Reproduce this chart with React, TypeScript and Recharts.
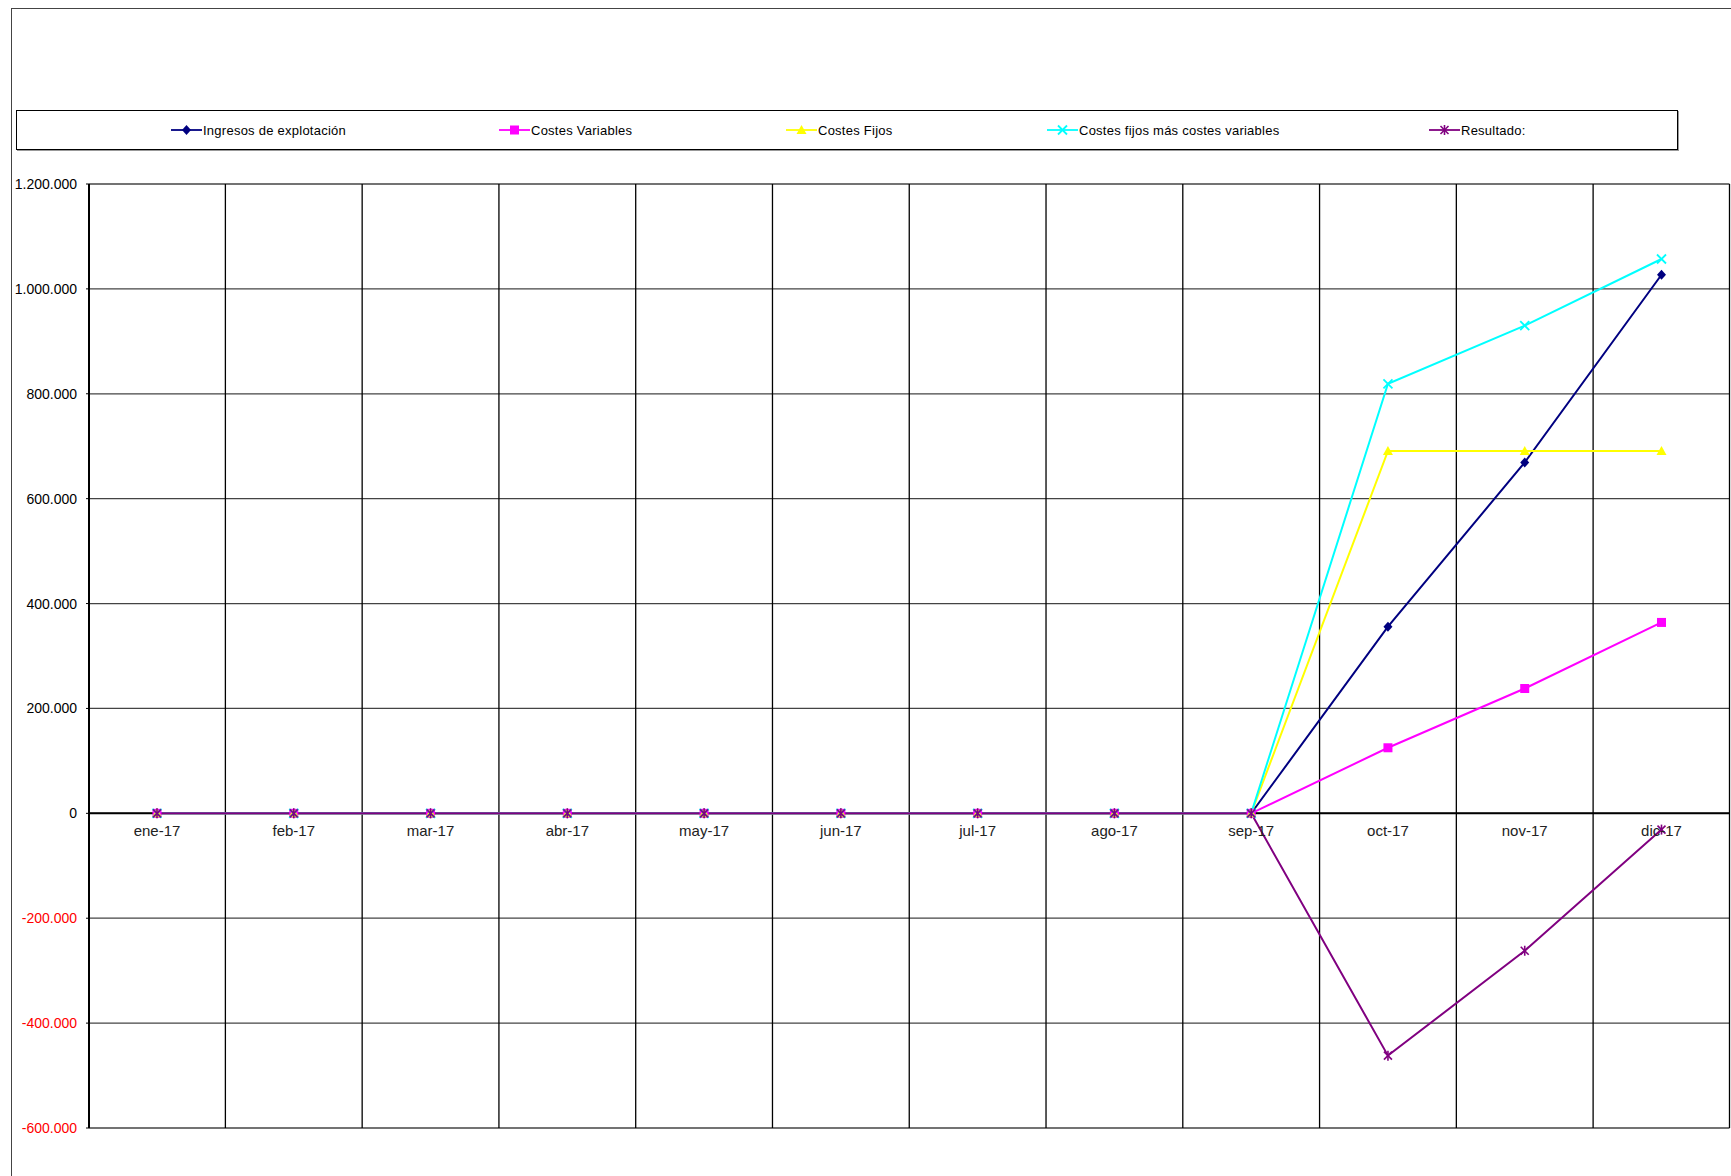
import React from 'react';
import {
  LineChart,
  Line,
  XAxis,
  YAxis,
  CartesianGrid,
  ReferenceLine,
  ReferenceDot,
  Legend,
} from 'recharts';

const months = ['ene-17', 'feb-17', 'mar-17', 'abr-17', 'may-17', 'jun-17', 'jul-17', 'ago-17', 'sep-17', 'oct-17', 'nov-17', 'dic-17'];
const ingresos = [0, 0, 0, 0, 0, 0, 0, 0, 0, 356000, 669000, 1027000];
const costesVariables = [0, 0, 0, 0, 0, 0, 0, 0, 0, 125000, 238000, 364000];
const costesFijos = [0, 0, 0, 0, 0, 0, 0, 0, 0, 691000, 691000, 691000];
const costesTotales = [0, 0, 0, 0, 0, 0, 0, 0, 0, 819000, 930000, 1057000];
const resultado = [0, 0, 0, 0, 0, 0, 0, 0, 0, -462000, -262000, -31000];
const yTicks = [-600000, -400000, -200000, 0, 200000, 400000, 600000, 800000, 1000000, 1200000];

const seriesNames = {
  ingresos: 'Ingresos de explotación',
  variables: 'Costes Variables',
  fijos: 'Costes Fijos',
  total: 'Costes fijos más costes variables',
  resultado: 'Resultado:',
};

const data = months.map((m, i) => ({
  month: m,
  ingresos: ingresos[i],
  variables: costesVariables[i],
  fijos: costesFijos[i],
  total: costesTotales[i],
  resultado: resultado[i],
}));

const FONT = '"Liberation Sans", Arial, Helvetica, sans-serif';

const COLORS: Record<string, string> = {
  ingresos: '#000080',
  variables: '#FF00FF',
  fijos: '#FFFF00',
  total: '#00FFFF',
  resultado: '#800080',
};

function marker(key: string, cx: number, cy: number, k?: any) {
  const c = COLORS[key];
  if (key === 'ingresos') {
    return <path key={k} d={`M${cx},${cy - 5}L${cx + 4.5},${cy}L${cx},${cy + 5}L${cx - 4.5},${cy}Z`} fill={c} />;
  }
  if (key === 'variables') {
    return <rect key={k} x={cx - 4.5} y={cy - 4.5} width={9} height={9} fill={c} />;
  }
  if (key === 'fijos') {
    return <path key={k} d={`M${cx},${cy - 5}L${cx + 5},${cy + 4}L${cx - 5},${cy + 4}Z`} fill={c} />;
  }
  if (key === 'total') {
    return (
      <g key={k} stroke={c} strokeWidth={1.8}>
        <line x1={cx - 4.5} y1={cy - 4.5} x2={cx + 4.5} y2={cy + 4.5} />
        <line x1={cx - 4.5} y1={cy + 4.5} x2={cx + 4.5} y2={cy - 4.5} />
      </g>
    );
  }
  return (
    <g key={k} stroke={c} strokeWidth={1.6}>
      <line x1={cx - 4} y1={cy - 4} x2={cx + 4} y2={cy + 4} />
      <line x1={cx - 4} y1={cy + 4} x2={cx + 4} y2={cy - 4} />
      <line x1={cx} y1={cy - 5} x2={cx} y2={cy + 5} />
    </g>
  );
}

const makeDot = (key: string) => (props: any) => {
  const { cx, cy, index } = props;
  if (cx == null || cy == null) return <g key={`${key}-${index}`} />;
  return marker(key, cx, cy, `${key}-${index}`);
};

function fmt(v: number) {
  const s = Math.abs(v).toFixed(0).replace(/\B(?=(\d{3})+(?!\d))/g, '.');
  return (v < 0 ? '-' : '') + s;
}

const YTick = (props: any) => {
  const { x, y, payload } = props;
  const v = payload.value as number;
  return (
    <text x={x} y={y} dy={5} textAnchor="end" fill={v < 0 ? '#FF0000' : '#000000'} fontSize={14} fontFamily={FONT}>
      {fmt(v)}
    </text>
  );
};

// vertical gridlines at the boundaries between categories, derived from the category scale
const categoryBoundaryGenerator = (props: any) => {
  const { xAxis, offset } = props || {};
  if (!xAxis || !xAxis.scale || !offset) return [];
  const s = xAxis.scale;
  const f = (v: string): number => (typeof s === 'function' ? s(v) : s.map(v));
  const pts = months.map((m) => f(m)).filter((v) => typeof v === 'number' && !isNaN(v));
  const out: number[] = [offset.left];
  for (let i = 0; i < pts.length - 1; i++) out.push((pts[i] + pts[i + 1]) / 2);
  out.push(offset.left + offset.width);
  return out;
};

const legendLeft: Record<string, number> = {
  ingresos: 171,
  variables: 499,
  fijos: 786,
  total: 1047,
  resultado: 1429,
};

const renderLegend = (props: any) => {
  const payload = (props.payload || []) as any[];
  return (
    <div style={{ position: 'relative', width: 1731, height: 0 }}>
      <div
        style={{
          position: 'absolute',
          left: 16,
          top: 110,
          width: 1660,
          height: 38,
          border: '1px solid #000',
          boxShadow: '1px 1px 0 #999',
          background: '#fff',
        }}
      />
      {payload.map((p: any) => {
        const key = String(p.dataKey);
        if (!(key in legendLeft)) return null;
        return (
          <div
            key={key}
            style={{
              position: 'absolute',
              left: legendLeft[key],
              top: 121,
              height: 18,
              display: 'flex',
              alignItems: 'center',
              whiteSpace: 'nowrap',
            }}
          >
            <svg width={31} height={14} style={{ display: 'block' }}>
              <line x1={0} y1={7} x2={31} y2={7} stroke={COLORS[key]} strokeWidth={1.8} />
              {marker(key, 15.5, 7)}
            </svg>
            <span
              style={{
                marginLeft: 1,
                fontFamily: FONT,
                fontSize: 13,
                letterSpacing: 0.25,
                color: '#000',
              }}
            >
              {p.value}
            </span>
          </div>
        );
      })}
    </div>
  );
};

export default function App() {
  const keys = ['ingresos', 'variables', 'fijos', 'total', 'resultado'];
  return (
    <div
      style={{
        position: 'absolute',
        left: 0,
        top: 0,
        width: 1731,
        height: 1176,
        overflow: 'hidden',
        background: '#fff',
      }}
    >
      <div
        style={{
          position: 'absolute',
          left: 11,
          top: 8,
          width: 1800,
          height: 1300,
          borderLeft: '1.5px solid #444',
          borderTop: '1.5px solid #444',
        }}
      />
      <div style={{ position: 'absolute', left: 0, top: 0 }}>
        <LineChart
          width={1731}
          height={1176}
          data={data}
          margin={{ top: 184, right: 1.5, bottom: 48, left: 0 }}
        >
          <XAxis dataKey="month" hide padding={{ left: 68, right: 68 }} />
          <YAxis
            width={89}
            domain={[-600000, 1200000]}
            ticks={yTicks}
            interval={0}
            allowDataOverflow
            axisLine={{ stroke: '#000', strokeWidth: 2 }}
            tickLine={{ stroke: '#000', strokeWidth: 1 }}
            tickSize={3}
            tickMargin={9}
            tick={<YTick />}
          />
          <CartesianGrid vertical={false} stroke="#444" strokeWidth={1.3} />
          <CartesianGrid
            horizontal={false}
            stroke="#000"
            strokeWidth={1.3}
            verticalCoordinatesGenerator={categoryBoundaryGenerator}
          />
          <ReferenceLine y={0} stroke="#000" strokeWidth={2} />
          {months.map((m) => (
            <ReferenceDot
              key={m}
              x={m}
              y={0}
              r={0}
              fill="none"
              stroke="none"
              label={{ value: m, position: 'bottom', offset: 12, fill: '#222', fontSize: 15, fontFamily: FONT }}
            />
          ))}
          <Legend
            layout="horizontal"
            verticalAlign="middle"
            align="center"
            wrapperStyle={{ left: 0, top: 0, width: 1731, height: 0 }}
            content={renderLegend}
          />
          {keys.map((k) => (
            <Line
              key={k}
              type="linear"
              dataKey={k}
              name={(seriesNames as any)[k]}
              stroke={COLORS[k]}
              strokeWidth={2}
              dot={makeDot(k)}
              activeDot={false}
              isAnimationActive={false}
            />
          ))}
        </LineChart>
      </div>
    </div>
  );
}
